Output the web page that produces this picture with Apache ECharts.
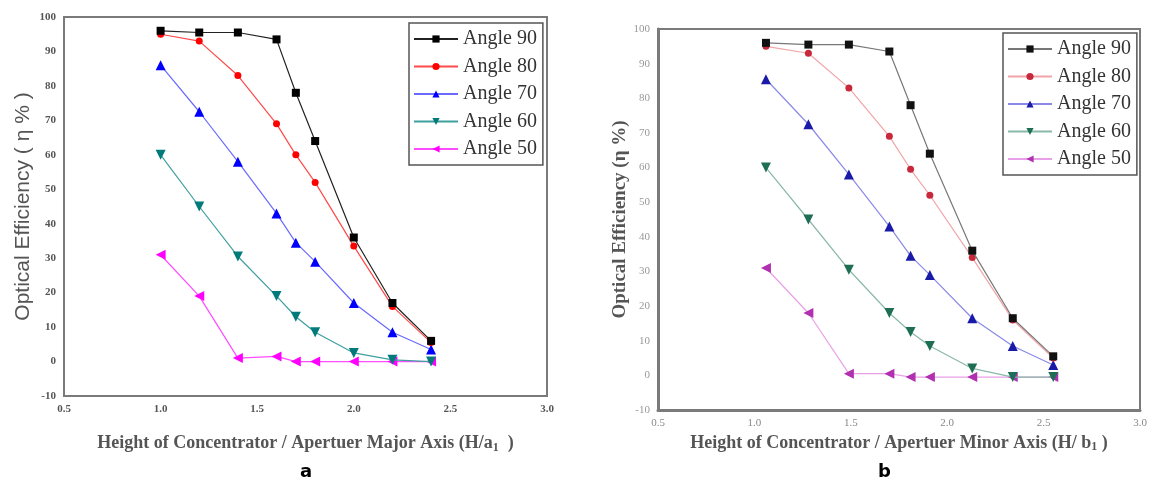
<!DOCTYPE html>
<html>
<head>
<meta charset="utf-8">
<script src="https://cdn.jsdelivr.net/npm/echarts@6/dist/echarts.min.js"></script>
<style>
  html, body { margin: 0; padding: 0; background: #fff; }
  #chart { width: 1153px; height: 484px; }
</style>
</head>
<body>
<div id="chart"></div>
<script>
// panel a : H/a1
var xA = [1.0, 1.2, 1.4, 1.6, 1.7, 1.8, 2.0, 2.2, 2.4];
// panel b : H/b1
var xB = [1.06, 1.28, 1.49, 1.70, 1.81, 1.91, 2.13, 2.34, 2.55];

var names = ['Angle 90', 'Angle 80', 'Angle 70', 'Angle 60', 'Angle 50'];

var a90 = [96, 95.5, 95.5, 93.5, 78, 64, 36, 17, 6];
var a80 = [95, 93, 83, 69, 60, 52, 33.5, 16, 5.5];
var a70 = [86, 72.5, 58, 43, 34.5, 29, 17, 8.5, 3.5];
var a60 = [60, 45, 30.5, 19, 13, 8.5, 2.5, 0.5, 0];
var a50 = [31, 19, 1, 1.5, 0, 0, 0, 0, 0];

var b90 = [96, 95.5, 95.5, 93.5, 78, 64, 36, 16.5, 5.5];
var b80 = [95, 93, 83, 69, 59.5, 52, 34, 16, 5];
var b70 = [85.5, 72.5, 58, 43, 34.5, 29, 16.5, 8.5, 3];
var b60 = [60, 45, 30.5, 18, 12.5, 8.5, 2, -0.5, -0.5];
var b50 = [31, 18, 0.5, 0.5, -0.5, -0.5, -0.5, -0.5, -0.5];

var yTicks = { min: -10, max: 100, interval: 10 };
var xTicks = { min: 0.5, max: 3.0, interval: 0.5 };

var serif = 'Liberation Serif';
var sans = 'Liberation Sans';

function pairs(xs, ys) {
  return xs.map(function (x, i) { return [x, ys[i]]; });
}

// symbol, size, rotate per angle
var symbols = [
  ['rect', 8, 0],
  ['circle', 7, 0],
  ['triangle', 10, 0],
  ['triangle', 10, 180],
  ['triangle', 10, 90]
];
var colA = [
  ['#000000', '#222222'],
  ['#ff0000', '#ff4a4a'],
  ['#0000ff', '#6a6aff'],
  ['#007a7a', '#3f9f9f'],
  ['#ff00ff', '#ff4cff']
];
var colB = [
  ['#111111', '#777777'],
  ['#c8283c', '#f0a4a8'],
  ['#1a1aa8', '#8a8ae6'],
  ['#1e6e55', '#8ab8aa'],
  ['#b030b0', '#e8a0e8']
];

var dataA = [a90, a80, a70, a60, a50];
var dataB = [b90, b80, b70, b60, b50];

var series = [];
names.forEach(function (n, i) {
  series.push({
    name: n, type: 'line', xAxisIndex: 0, yAxisIndex: 0,
    data: pairs(xA, dataA[i]),
    symbol: symbols[i][0], symbolSize: symbols[i][1], symbolRotate: symbols[i][2],
    itemStyle: { color: colA[i][0] },
    lineStyle: { color: colA[i][1], width: 1.2 },
    z: 10 - i
  });
});
names.forEach(function (n, i) {
  series.push({
    name: n + ' (b)', type: 'line', xAxisIndex: 1, yAxisIndex: 1,
    data: pairs(xB, dataB[i]),
    symbol: symbols[i][0], symbolSize: symbols[i][1], symbolRotate: symbols[i][2],
    itemStyle: { color: colB[i][0] },
    lineStyle: { color: colB[i][1], width: 1.2 },
    z: 10 - i
  });
});

// y axis a : sans title, y axis b : serif title
var yAxes = [
  {
    gridIndex: 0, labelColor: '#555', labelWeight: 'bold', lineW: 2,
    name: 'Optical Efficiency ( η % )', gap: 30,
    nameStyle: { fontFamily: sans, fontSize: 21, color: '#555' }
  },
  {
    gridIndex: 1, labelColor: '#999', labelWeight: 'normal', lineW: 3,
    name: 'Optical Efficiency (η %)', gap: 28,
    nameStyle: { fontFamily: serif, fontSize: 19, fontWeight: 'bold', color: '#555' }
  }
].map(function (c) {
  return {
    type: 'value', gridIndex: c.gridIndex,
    min: yTicks.min, max: yTicks.max, interval: yTicks.interval,
    splitLine: { show: false },
    axisTick: { show: false },
    axisLine: { show: true, onZero: false, lineStyle: { color: '#7a7a7a', width: c.lineW } },
    axisLabel: { fontFamily: serif, fontSize: 11, color: c.labelColor, margin: 8, fontWeight: c.labelWeight },
    name: c.name,
    nameLocation: 'middle',
    nameGap: c.gap,
    nameTextStyle: c.nameStyle
  };
});

function xAxis(grid, color, weight, nm, gap, size) {
  return {
    type: 'value', gridIndex: grid,
    min: xTicks.min, max: xTicks.max, interval: xTicks.interval,
    splitLine: { show: false },
    axisTick: { show: false },
    axisLine: { show: true, onZero: false, lineStyle: { color: '#7a7a7a', width: grid ? 3 : 2 } },
    axisLabel: {
      fontFamily: serif, fontSize: 11, color: color, margin: 8, fontWeight: weight,
      formatter: function (v) { return v.toFixed(1); }
    },
    name: nm,
    nameLocation: 'middle',
    nameGap: gap,
    nameTextStyle: {
      fontFamily: serif, fontSize: size, fontWeight: 'bold', color: '#555',
      rich: { sub: { fontFamily: serif, fontSize: 12, fontWeight: 'bold', color: '#555', verticalAlign: 'bottom', padding: [9, 0, 0, 0] } }
    }
  };
}

function legend(left, top, data) {
  return {
    orient: 'vertical', left: left, top: top,
    data: data,
    formatter: function (n) { return n.replace(' (b)', ''); },
    borderColor: '#555', borderWidth: 1.5, borderRadius: 0,
    padding: [6, 6, 6, 4],
    itemGap: 7.5, itemWidth: 44, itemHeight: 9,
    textStyle: { fontFamily: serif, fontSize: 20, lineHeight: 20, color: '#333' }
  };
}

var chart = echarts.init(document.getElementById('chart'));
chart.setOption({
  animation: false,
  backgroundColor: '#ffffff',
  title: [
    { text: 'a', left: 295, top: 458, textStyle: { fontFamily: 'DejaVu Sans', fontSize: 18, fontWeight: 'bold', color: '#000' } },
    { text: 'b', left: 873, top: 458, textStyle: { fontFamily: 'DejaVu Sans', fontSize: 18, fontWeight: 'bold', color: '#000' } }
  ],
  grid: [
    { left: 64, top: 17, width: 483, height: 379, show: true, borderColor: '#7a7a7a', borderWidth: 2, backgroundColor: 'transparent' },
    { left: 658, top: 29, width: 482, height: 381, show: true, borderColor: '#7a7a7a', borderWidth: 2, backgroundColor: 'transparent' }
  ],
  legend: [
    legend(409, 23, names),
    legend(1003, 33, names.map(function (n) { return n + ' (b)'; }))
  ],
  xAxis: [
    xAxis(0, '#555', 'bold', 'Height of Concentrator / Apertuer Major Axis (H/a{sub|1}  )', 37, 18),
    xAxis(1, '#888', 'normal', 'Height of Concentrator / Apertuer Minor Axis (H/ b{sub|1} )', 17, 18)
  ],
  yAxis: yAxes,
  series: series
});
</script>
</body>
</html>
